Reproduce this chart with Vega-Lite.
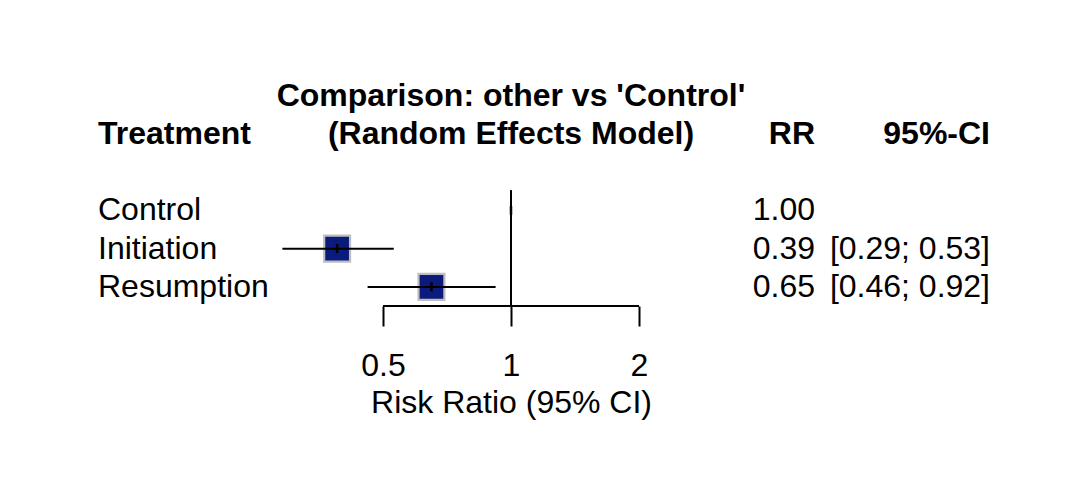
{
  "$schema": "https://vega.github.io/schema/vega-lite/v6.json",
  "autosize": {"type": "pad"},
  "padding": {"left": 98, "top": 0, "right": 92, "bottom": 50},
  "bounds": "flush",
  "spacing": 0,
  "config": {
    "font": "Liberation Sans",
    "view": {"stroke": null},
    "text": {"fontSize": 32, "color": "black"},
    "axis": {"labelColor": "black", "titleColor": "black", "tickColor": "black"},
    "axisX": {
      "domain": false, "grid": false,
      "tickSize": 20, "tickWidth": 2, "labelFontSize": 32, "labelPadding": 24,
      "labelFlush": false, "labelOverlap": false,
      "titleFontSize": 32, "titleFontWeight": "normal", "titlePadding": 6
    }
  },
  "datasets": {
    "trt": [
      {"treatment": "Control", "row": 0, "rr": 1, "lo": null, "hi": null, "rr_txt": "1.00", "ci_txt": ""},
      {"treatment": "Initiation", "row": 1, "rr": 0.39, "lo": 0.29, "hi": 0.53, "rr_txt": "0.39", "ci_txt": "[0.29; 0.53]"},
      {"treatment": "Resumption", "row": 2, "rr": 0.65, "lo": 0.46, "hi": 0.92, "rr_txt": "0.65", "ci_txt": "[0.46; 0.92]"}
    ]
  },
  "hconcat": [
    {
      "width": 109,
      "height": 306,
      "layer": [
        {
          "data": {"values": [{"col": "treatment", "txt": "Treatment", "row": -2}]},
          "mark": {"type": "text", "align": "left", "baseline": "middle", "fontWeight": "bold", "fontSize": 32},
          "encoding": {
            "x": {"field": "col", "type": "nominal", "scale": {"type": "point", "domain": ["treatment"], "padding": 0, "align": 0}, "axis": null},
            "y": {"field": "row", "type": "quantitative", "scale": {"domain": [-5.5, 2.5], "reverse": true, "nice": false, "zero": false}, "axis": null},
            "text": {"field": "txt"}
          }
        },
        {
          "data": {"name": "trt"},
          "transform": [{"fold": ["treatment"], "as": ["col", "txt"]}],
          "mark": {"type": "text", "align": "left", "baseline": "middle", "fontSize": 32},
          "encoding": {
            "x": {"field": "col", "type": "nominal", "scale": {"type": "point", "domain": ["treatment"], "padding": 0, "align": 0}, "axis": null},
            "y": {"field": "row", "type": "quantitative", "scale": {"domain": [-5.5, 2.5], "reverse": true, "nice": false, "zero": false}, "axis": null},
            "text": {"field": "txt"}
          }
        }
      ]
    },
    {
      "width": 608,
      "height": 306,
      "layer": [
        {
          "data": {"values": [{"ref": 1, "top": -0.53, "bottom": 2.5}]},
          "mark": {"type": "rule", "color": "black", "strokeWidth": 2},
          "encoding": {
            "x": {"field": "ref", "type": "quantitative", "scale": {"type": "log", "domain": [0.19278, 5.1874], "nice": false, "zero": false}, "axis": {"title": "Risk Ratio (95% CI)", "values": [0.5, 1, 2], "format": "~g", "labelOverlap": false}},
            "y": {"field": "top", "type": "quantitative", "scale": {"domain": [-5.5, 2.5], "reverse": true, "nice": false, "zero": false}, "axis": null},
            "y2": {"field": "bottom"}
          }
        },
        {
          "data": {"values": [{"from": 0.5, "to": 2, "pos": 2.5}]},
          "mark": {"type": "rule", "color": "black", "strokeWidth": 2},
          "encoding": {
            "x": {"field": "from", "type": "quantitative", "scale": {"type": "log", "domain": [0.19278, 5.1874], "nice": false, "zero": false}, "axis": {"title": "Risk Ratio (95% CI)", "values": [0.5, 1, 2], "format": "~g", "labelOverlap": false}},
            "x2": {"field": "to"},
            "y": {"field": "pos", "type": "quantitative", "scale": {"domain": [-5.5, 2.5], "reverse": true, "nice": false, "zero": false}, "axis": null}
          }
        },
        {
          "data": {"name": "trt"},
          "transform": [{"filter": "datum.lo != null"}],
          "mark": {"type": "square", "filled": true, "color": "#0A1A7D", "stroke": "#BEBEBE", "strokeWidth": 2.2, "size": 670, "opacity": 1},
          "encoding": {
            "x": {"field": "rr", "type": "quantitative", "scale": {"type": "log", "domain": [0.19278, 5.1874], "nice": false, "zero": false}, "axis": {"title": "Risk Ratio (95% CI)", "values": [0.5, 1, 2], "format": "~g", "labelOverlap": false}},
            "y": {"field": "row", "type": "quantitative", "scale": {"domain": [-5.5, 2.5], "reverse": true, "nice": false, "zero": false}, "axis": null}
          }
        },
        {
          "data": {"name": "trt"},
          "transform": [{"filter": "datum.lo != null"}],
          "mark": {"type": "rule", "color": "black", "strokeWidth": 2},
          "encoding": {
            "x": {"field": "lo", "type": "quantitative", "scale": {"type": "log", "domain": [0.19278, 5.1874], "nice": false, "zero": false}, "axis": {"title": "Risk Ratio (95% CI)", "values": [0.5, 1, 2], "format": "~g", "labelOverlap": false}},
            "x2": {"field": "hi"},
            "y": {"field": "row", "type": "quantitative", "scale": {"domain": [-5.5, 2.5], "reverse": true, "nice": false, "zero": false}, "axis": null}
          }
        },
        {
          "data": {"name": "trt"},
          "mark": {"type": "tick", "orient": "vertical", "color": "black", "thickness": 2.5, "size": 9, "opacity": 1},
          "encoding": {
            "x": {"field": "rr", "type": "quantitative", "scale": {"type": "log", "domain": [0.19278, 5.1874], "nice": false, "zero": false}, "axis": {"title": "Risk Ratio (95% CI)", "values": [0.5, 1, 2], "format": "~g", "labelOverlap": false}},
            "y": {"field": "row", "type": "quantitative", "scale": {"domain": [-5.5, 2.5], "reverse": true, "nice": false, "zero": false}, "axis": null}
          }
        },
        {
          "data": {"values": [
            {"txt": "Comparison: other vs 'Control'", "row": -3, "at": 1},
            {"txt": "(Random Effects Model)", "row": -2, "at": 1}
          ]},
          "mark": {"type": "text", "align": "center", "baseline": "middle", "fontWeight": "bold", "fontSize": 32},
          "encoding": {
            "x": {"field": "at", "type": "quantitative", "scale": {"type": "log", "domain": [0.19278, 5.1874], "nice": false, "zero": false}, "axis": {"title": "Risk Ratio (95% CI)", "values": [0.5, 1, 2], "format": "~g", "labelOverlap": false}},
            "y": {"field": "row", "type": "quantitative", "scale": {"domain": [-5.5, 2.5], "reverse": true, "nice": false, "zero": false}, "axis": null},
            "text": {"field": "txt"}
          }
        }
      ]
    },
    {
      "width": 175,
      "height": 306,
      "layer": [
        {
          "data": {"values": [
            {"col": "rr_txt", "txt": "RR", "row": -2},
            {"col": "ci_txt", "txt": "95%-CI", "row": -2}
          ]},
          "mark": {"type": "text", "align": "right", "baseline": "middle", "fontWeight": "bold", "fontSize": 32},
          "encoding": {
            "x": {"field": "col", "type": "nominal", "scale": {"type": "point", "domain": ["rr_txt", "ci_txt"], "padding": 0}, "axis": null},
            "y": {"field": "row", "type": "quantitative", "scale": {"domain": [-5.5, 2.5], "reverse": true, "nice": false, "zero": false}, "axis": null},
            "text": {"field": "txt"}
          }
        },
        {
          "data": {"name": "trt"},
          "transform": [{"fold": ["rr_txt", "ci_txt"], "as": ["col", "txt"]}],
          "mark": {"type": "text", "align": "right", "baseline": "middle", "fontSize": 32},
          "encoding": {
            "x": {"field": "col", "type": "nominal", "scale": {"type": "point", "domain": ["rr_txt", "ci_txt"], "padding": 0}, "axis": null},
            "y": {"field": "row", "type": "quantitative", "scale": {"domain": [-5.5, 2.5], "reverse": true, "nice": false, "zero": false}, "axis": null},
            "text": {"field": "txt"}
          }
        }
      ]
    }
  ]
}
